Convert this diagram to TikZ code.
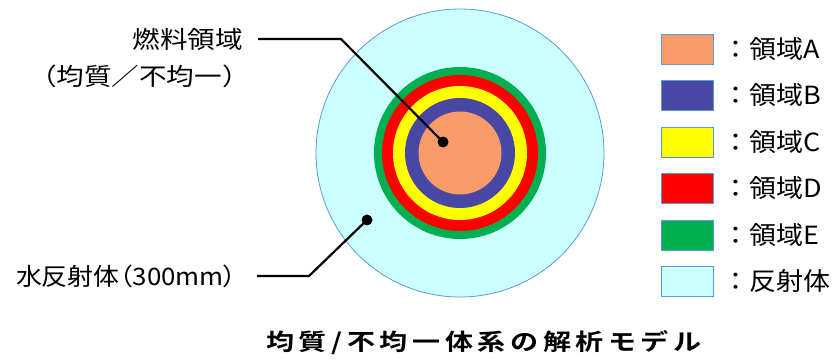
\documentclass[tikz,border=0pt]{standalone}
\usepackage{fontspec}
\usepackage{tikz}
\usetikzlibrary{positioning}
\newfontfamily\jp[FakeStretch=1.08]{Noto Sans CJK JP}
\newfontfamily\jpwide[FakeStretch=1.15]{Noto Sans CJK JP}
\newfontfamily\jpnarrow[FakeStretch=1.08,RawFeature=+palt]{Noto Sans CJK JP}
\newfontfamily\jptitle[FakeStretch=1.22,LetterSpace=20,
  BoldFont={Noto Sans CJK JP Bold}]{Noto Sans CJK JP}
\definecolor{regA}{RGB}{248,155,105}
\definecolor{regB}{RGB}{72,72,164}
\definecolor{regC}{RGB}{255,255,0}
\definecolor{regD}{RGB}{255,0,0}
\definecolor{regE}{RGB}{0,176,80}
\definecolor{refl}{RGB}{204,255,255}
\definecolor{rim}{RGB}{91,155,213}

\begin{document}
\begin{tikzpicture}[x=1pt, y=-1pt,
    ring/.style={circle, inner sep=0pt, minimum size=#1},
    dot/.style={circle, fill=black, inner sep=0pt, minimum size=11pt},
    leader/.style={line width=2.2pt},
    tag/.style={font=\jpwide\fontsize{24}{28}\selectfont, inner sep=0pt},
    key/.style={draw=rim, line width=0.8pt, minimum width=52pt,
                minimum height=30pt, inner sep=0pt},
    keytext/.style={font=\jp\fontsize{25}{28}\selectfont, inner sep=0pt},
  ]
  \useasboundingbox (0,0) rectangle (833,363);

  \node[ring=288pt, fill=refl, draw=rim, line width=0.8pt] (reflector) at (460,153) {};
  \node[ring=172pt, fill=regE] (regionE) at (460,153) {};
  \node[ring=156pt, fill=regD] (regionD) at (460,153) {};
  \node[ring=134pt, fill=regC] (regionC) at (460,153) {};
  \node[ring=110pt, fill=regB] (regionB) at (460,153) {};
  \node[ring=83pt,  fill=regA] (regionA) at (460,153) {};

  \node[dot] (fueldot) at (443,142) {};
  \node[dot] (refldot) at (367,220) {};

  \node[tag, anchor=east] (fuel)    at (243,39)  {燃料領域};
  \node[tag, anchor=east] (fuelsub) at (250,76)  {（均質／不均一）};
  \node[tag, anchor=east, font=\jpnarrow\fontsize{24}{28}\selectfont]
    (water) at (237,276) {水反射体（300mm）};

  \draw[leader] ([xshift=15pt]fuel.east)  -- ++(83,0) -- (fueldot.center);
  \draw[leader] ([xshift=20pt]water.east) -- ++(52,0) -- (refldot.center);

  \foreach \c/\t [count=\i] in {regA/領域A, regB/領域B, regC/領域C,
                                regD/領域D, regE/領域E, refl/反射体} {
    \node[key, fill=\c] (key\i) at (687, 2.5+46.5*\i) {};
    \node[keytext, right=9pt of key\i] (keytext\i) {：\t};
  }

  \node[font=\jptitle\bfseries\fontsize{23}{28}\selectfont, inner sep=0pt]
    (title) at (484,343) {均質/不均一体系の解析モデル};
\end{tikzpicture}
\end{document}
